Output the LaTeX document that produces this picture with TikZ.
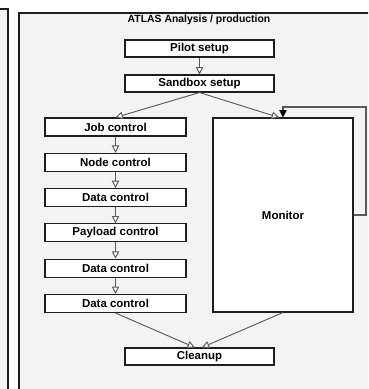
\documentclass[tikz,border=0pt]{standalone}
\usepackage{fontspec}
\setmainfont{Liberation Sans}
\usepackage{tikz}
\usetikzlibrary{arrows.meta}
\usetikzlibrary{calc}
\definecolor{panelgray}{RGB}{243,243,243}
\definecolor{linegray}{RGB}{90,90,90}
\definecolor{boxline}{RGB}{30,30,30}

\begin{document}
\begin{tikzpicture}[x=0.75pt,y=-0.75pt,
  stage/.style={draw=boxline,fill=white,line width=0.8pt,inner sep=0pt,
    font=\fontsize{8.6}{10}\selectfont\bfseries},
  flow/.style={draw=linegray,line width=0.7pt,-{Triangle[open,fill=white,length=5.5pt,width=5.5pt]}},
  back/.style={draw=linegray,line width=0.8pt,-{Triangle[length=5.5pt,width=5.5pt,color=black]}}]
\clip (0,0) rectangle (368,389);
\fill[white] (0,0) rectangle (368,389);
\draw[boxline,fill=panelgray,line width=1pt] (-20,9) rectangle (8,420);
\draw[boxline,fill=panelgray,line width=1pt] (19,13) rectangle (400,420);
\node[inner sep=0pt] (title) at (199,19.5) {\fontsize{7.8}{9}\selectfont\bfseries ATLAS Analysis / production};
\node[stage,minimum width=111.75pt,minimum height=12.75pt] (pilot) at (199.5,48.5) {Pilot setup};
\node[stage,minimum width=111.75pt,minimum height=12.75pt] (sandbox) at (199.5,83.5) {Sandbox setup};
\foreach \lab [count=\i] in {Job control,Node control,Data control,Payload control,Data control,Data control}
  \node[stage,minimum width=105.75pt,minimum height=13.5pt] (c\i) at (115.5,{127+35.3*(\i-1)}) {\lab};
\node[stage,minimum width=105pt,minimum height=145.5pt] (monitor) at (283,215) {Monitor};
\node[stage,minimum width=111.75pt,minimum height=12.75pt] (cleanup) at (199.5,356.5) {Cleanup};
\path
(pilot) edge[flow] (sandbox)
(sandbox.south) edge[flow] (c1.north)
(sandbox.south) edge[flow] ([xshift=-3pt]monitor.north)
(c1) edge[flow] (c2)
(c2) edge[flow] (c3)
(c3) edge[flow] (c4)
(c4) edge[flow] (c5)
(c5) edge[flow] (c6)
(c6.south) edge[flow] ([xshift=-3.5pt]cleanup.north)
(monitor.south) edge[flow] ([xshift=1.8pt]cleanup.north)
;
\draw[back] (monitor.east) -- (366,215) -- (366,107) -- (283,107) -- (monitor.north);
\end{tikzpicture}
\end{document}
